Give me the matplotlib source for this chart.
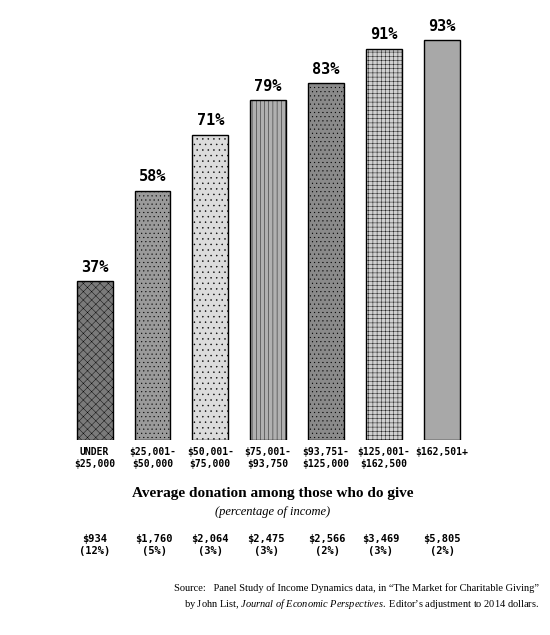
import matplotlib
matplotlib.use("Agg")
import matplotlib.pyplot as plt

categories = ["UNDER\n$25,000", "$25,001-\n$50,000", "$50,001-\n$75,000", "$75,001-\n$93,750",
              "$93,751-\n$125,000", "$125,001-\n$162,500", "$162,501+"]
share_giving = [37, 58, 71, 79, 83, 91, 93]
donations = ["$934\n(12%)", "$1,760\n(5%)", "$2,064\n(3%)", "$2,475\n(3%)",
             "$2,566\n(2%)", "$3,469\n(3%)", "$5,805\n(2%)"]

colors = ["#7a7a7a", "#9a9a9a", "#dcdcdc", "#b0b0b0", "#8a8a8a", "#d0d0d0", "#a8a8a8"]
hatches = ["xxxx", "....", "...", "||||", "....", "++++", ""]

plt.rcParams['hatch.color'] = '#666666'
plt.rcParams['hatch.linewidth'] = 0.3
plt.rcParams['mathtext.fontset'] = 'custom'
plt.rcParams['mathtext.it'] = 'Liberation Serif:italic'
plt.rcParams['mathtext.rm'] = 'Liberation Serif'

fig = plt.figure(figsize=(5.5, 6.35), dpi=100)
ax = fig.add_axes([0.109, 0.307, 0.757, 0.677])
x = list(range(len(categories)))
bars = ax.bar(x, share_giving, width=0.62, color=colors, edgecolor="black", linewidth=1.0)
for b, h in zip(bars, hatches):
    b.set_hatch(h)
for xi, v in zip(x, share_giving):
    ax.text(xi, v + 1.5, f"{v}%", ha="center", va="bottom", fontsize=11,
            fontweight="bold", family="DejaVu Sans Mono")
ax.set_xlim(-0.6, 6.6)
ax.set_ylim(0, 100)
ax.set_xticks(x)
ax.set_xticklabels(categories, fontsize=7, fontweight="bold", family="DejaVu Sans Mono")
ax.tick_params(axis="x", length=0, pad=5)
ax.set_yticks([])
for s in ax.spines.values():
    s.set_visible(False)

fig.text(0.495, 1 - 493 / 635, "Average donation among those who do give", ha="center",
         va="center", fontsize=11, fontweight="bold", family="Liberation Serif")
fig.text(0.495, 1 - 512 / 635, "(percentage of income)", ha="center", va="center",
         fontsize=9, style="italic", family="Liberation Serif")
centers = [95, 154, 210, 266, 327, 381, 442]
for cx, d in zip(centers, donations):
    fig.text(cx / 550, 1 - 545 / 635, d, ha="center", va="center", fontsize=7.5,
             fontweight="bold", family="DejaVu Sans Mono", linespacing=1.3)
fig.text(0.98, 1 - 597 / 635,
         "Source:   Panel Study of Income Dynamics data, in \u201cThe Market for Charitable Giving\u201d\n"
         "by John List, $\\mathit{Journal\\ of\\ Economic\\ Perspectives.}$ Editor\u2019s adjustment to 2014 dollars.",
         ha="right", va="center", fontsize=7.5, family="Liberation Serif", linespacing=1.4)
fig.savefig("out.png", dpi=100)
